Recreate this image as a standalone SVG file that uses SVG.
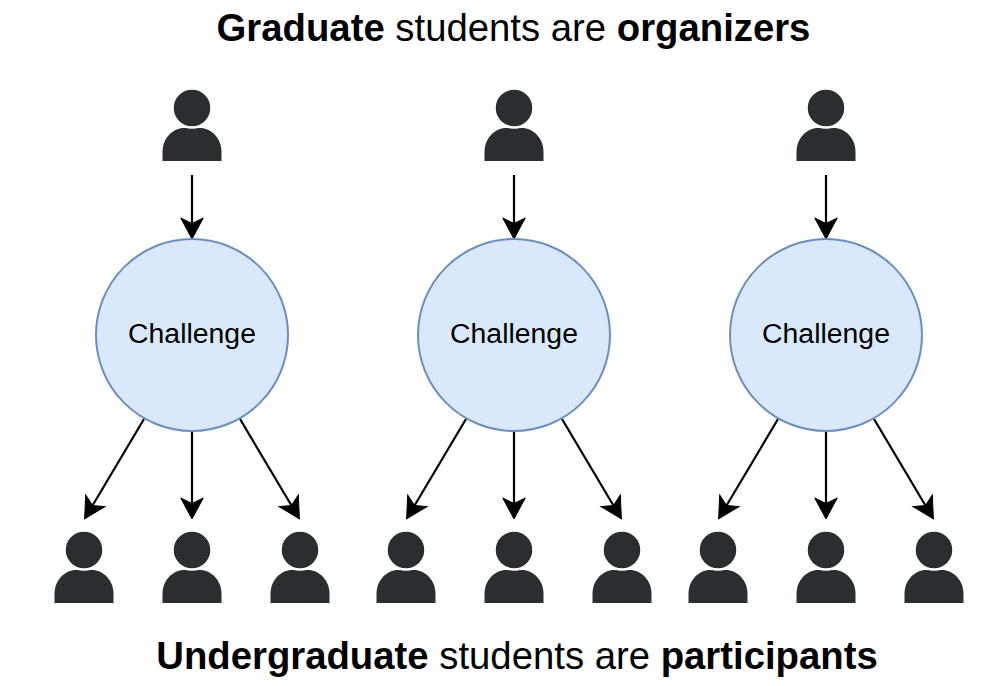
<svg xmlns="http://www.w3.org/2000/svg" xmlns:xlink="http://www.w3.org/1999/xlink" width="1008" height="686" viewBox="0 0 1008 686">
<style>
.title{font-family:"Liberation Sans",Arial,sans-serif;font-size:38.3px;fill:#000;}
.b{font-weight:bold;}
.lbl{font-family:"Liberation Sans",Arial,sans-serif;font-size:28.4px;fill:#000;}
.ch{fill:#dae8fc;stroke:#6c8ebf;stroke-width:2;}
.edge{stroke:#000;stroke-width:2.2;fill:none;marker-end:url(#arr);}
.head{fill:#000;stroke:#000;stroke-width:1;stroke-linejoin:miter;}
.pb{fill:#2b2e31;}
.ph{fill:#2b2e31;stroke:#fff;stroke-width:2.5;}
</style>
<defs>
<marker id="arr" viewBox="0 0 24 24" refX="6" refY="12" markerWidth="24" markerHeight="24" markerUnits="userSpaceOnUse" orient="auto" overflow="visible">
<path class="head" d="M21.5,12 L0.5,0.75 L6,12 L0.5,23.25 Z"/>
</marker>
<g id="person">
<path class="pb" d="M-29.5,53 V44 C-29.5,30 -19,20 -8,20 H8 C19,20 29.5,30 29.5,44 V53 Z"/>
<circle class="ph" cx="0" cy="0" r="19.5"/>
</g>
</defs>
<rect width="1008" height="686" fill="#fff"/>
<g id="title-top"><text class="title" x="513.5" y="41" text-anchor="middle"><tspan class="b">Graduate</tspan> students are <tspan class="b">organizers</tspan></text></g>
<g id="title-bottom"><text class="title" x="517" y="669" text-anchor="middle"><tspan class="b">Undergraduate</tspan> students are <tspan class="b">participants</tspan></text></g>

<g id="connectors">
<line class="edge" x1="192" y1="175" x2="192" y2="223.5"/>
<line class="edge" x1="514" y1="175" x2="514" y2="223.5"/>
<line class="edge" x1="826" y1="175" x2="826" y2="223.5"/>

<line class="edge" x1="144" y1="419" x2="92.55" y2="505.5"/>
<line class="edge" x1="192" y1="431" x2="192" y2="503.5"/>
<line class="edge" x1="240" y1="419" x2="291.45" y2="505.5"/>

<line class="edge" x1="466" y1="419" x2="414.55" y2="505.5"/>
<line class="edge" x1="514" y1="431" x2="514" y2="503.5"/>
<line class="edge" x1="562" y1="419" x2="613.45" y2="505.5"/>

<line class="edge" x1="778" y1="419" x2="726.55" y2="505.5"/>
<line class="edge" x1="826" y1="431" x2="826" y2="503.5"/>
<line class="edge" x1="874" y1="419" x2="925.45" y2="505.5"/>
</g>

<g id="organizer-1"><use xlink:href="#person" x="192" y="108"/></g>
<g id="organizer-2"><use xlink:href="#person" x="514" y="108"/></g>
<g id="organizer-3"><use xlink:href="#person" x="826" y="108"/></g>

<g id="challenge-1"><circle class="ch" cx="192" cy="335" r="96"/><text class="lbl" x="192" y="343" text-anchor="middle">Challenge</text></g>
<g id="challenge-2"><circle class="ch" cx="514" cy="335" r="96"/><text class="lbl" x="514" y="343" text-anchor="middle">Challenge</text></g>
<g id="challenge-3"><circle class="ch" cx="826" cy="335" r="96"/><text class="lbl" x="826" y="343" text-anchor="middle">Challenge</text></g>

<g id="participant-1"><use xlink:href="#person" x="84" y="550"/></g>
<g id="participant-2"><use xlink:href="#person" x="192" y="550"/></g>
<g id="participant-3"><use xlink:href="#person" x="300" y="550"/></g>
<g id="participant-4"><use xlink:href="#person" x="406" y="550"/></g>
<g id="participant-5"><use xlink:href="#person" x="514" y="550"/></g>
<g id="participant-6"><use xlink:href="#person" x="622" y="550"/></g>
<g id="participant-7"><use xlink:href="#person" x="718" y="550"/></g>
<g id="participant-8"><use xlink:href="#person" x="826" y="550"/></g>
<g id="participant-9"><use xlink:href="#person" x="934" y="550"/></g>
</svg>
